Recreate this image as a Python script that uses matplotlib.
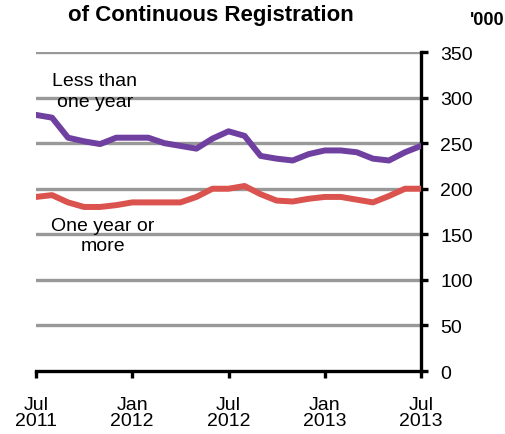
import matplotlib
matplotlib.use("Agg")
import matplotlib.pyplot as plt

plt.rcParams["font.family"] = ["Liberation Sans", "DejaVu Sans"]

# ---------------- DATA ('000, monthly Jul 2011 - Jul 2013) ----------------
months = list(range(25))
less_than_one_year = [281, 278, 256, 252, 249, 256, 256, 256, 250, 247, 244, 255, 263,
                      258, 236, 233, 231, 238, 242, 242, 240, 233, 231, 240, 247]
one_year_or_more = [191, 193, 185, 180, 180, 182, 185, 185, 185, 185, 191, 200, 200,
                    203, 194, 187, 186, 189, 191, 191, 188, 185, 192, 200, 200]
tick_pos = [0, 6, 12, 18, 24]
tick_labels = ["Jul\n2011", "Jan\n2012", "Jul\n2012", "Jan\n2013", "Jul\n2013"]
y_ticks = [0, 50, 100, 150, 200, 250, 300, 350]

# ---------------- PLOT ----------------
fig = plt.figure(figsize=(5.06, 4.35), dpi=100)
ax = fig.add_axes([0.0711, 0.1448, 0.761, 0.7333])

for y in y_ticks[1:]:
    ax.axhline(y, color="#999999", lw=2.4, zorder=1)

ax.plot(months, less_than_one_year, color="#7040A0", lw=4.3, zorder=3)
ax.plot(months, one_year_or_more, color="#DA534E", lw=4.3, zorder=3)

ax.set_xlim(0, 24)
ax.set_ylim(0, 350)

ax.yaxis.tick_right()
ax.set_yticks(y_ticks)
ax.set_xticks(tick_pos)
ax.set_xticklabels(tick_labels)

for side in ["left", "top"]:
    ax.spines[side].set_visible(False)
for side in ["bottom", "right"]:
    ax.spines[side].set_linewidth(2.4)
    ax.spines[side].set_color("black")

ax.tick_params(axis="y", direction="out", length=5, width=2.4, pad=9, labelsize=14)
ax.tick_params(axis="x", direction="out", length=5, width=2.4, pad=13, labelsize=14)
for lbl in ax.get_xticklabels():
    lbl.set_linespacing(0.95)

ax.text(0.153, 0.878, "Less than\none year", transform=ax.transAxes, fontsize=14,
        ha="center", va="center", linespacing=1.25)
ax.text(0.174, 0.425, "One year or\nmore", transform=ax.transAxes, fontsize=14,
        ha="center", va="center", linespacing=1.25)

fig.text(0.417, 0.965, "of Continuous Registration", fontsize=16,
         fontweight="bold", ha="center", va="center")
fig.text(0.962, 0.954, "'000", fontsize=13, fontweight="bold", ha="center", va="center")

# ---------------- SAVE ----------------
fig.savefig("out.png", dpi=100)
plt.close(fig)
